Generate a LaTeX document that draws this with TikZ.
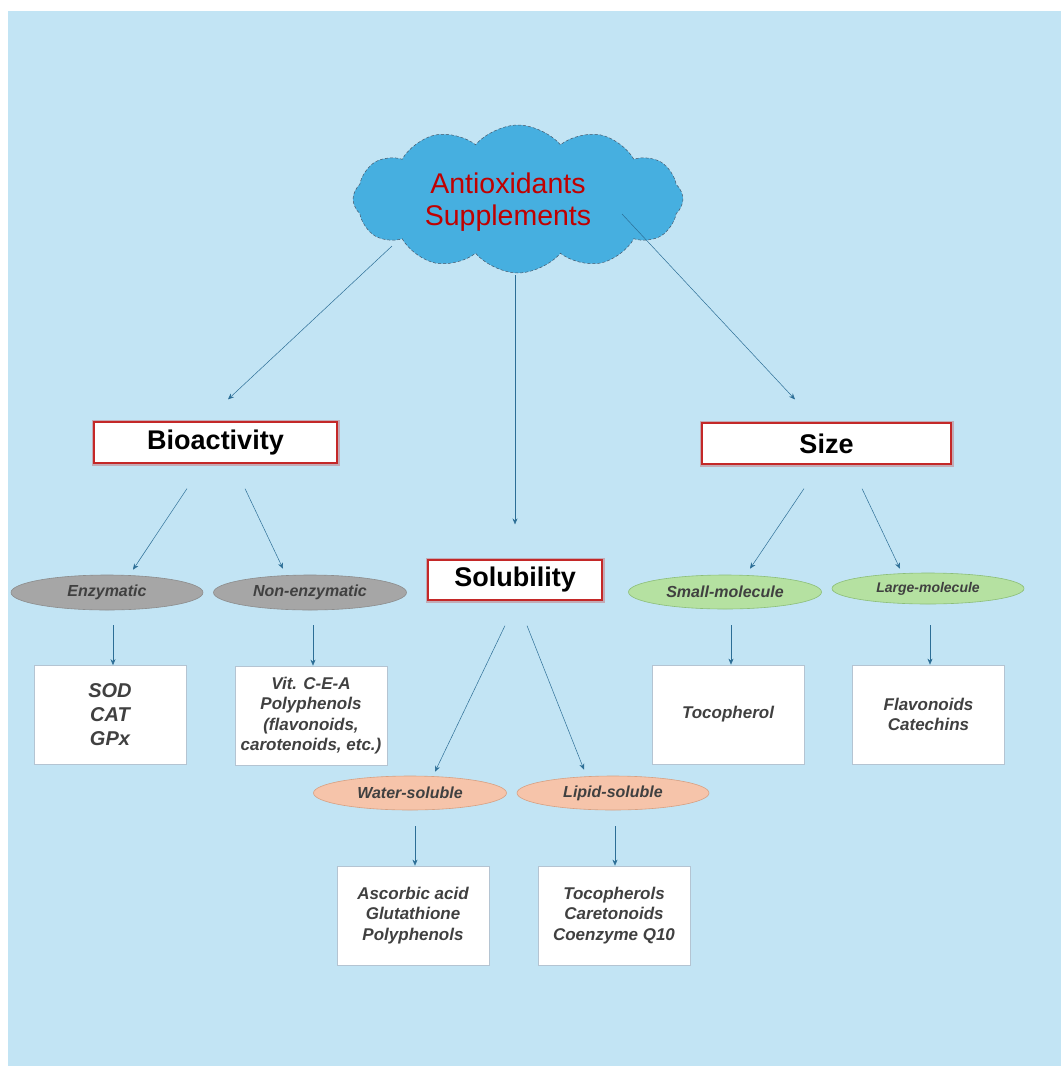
\documentclass[tikz,border=0pt]{standalone}
\usepackage{fontspec}
\setmainfont{Liberation Sans}
\usetikzlibrary{shapes.geometric,shapes.symbols,arrows.meta,calc}
\definecolor{bgblue}{RGB}{194,228,244}
\definecolor{cloudblue}{RGB}{70,175,224}
\definecolor{cloudline}{RGB}{70,90,110}
\definecolor{titlered}{RGB}{192,0,0}
\definecolor{boxred}{RGB}{196,40,40}
\definecolor{arrowblue}{RGB}{44,110,150}
\definecolor{txtgray}{RGB}{64,64,64}
\definecolor{ellgray}{RGB}{166,166,166}
\definecolor{ellgrayline}{RGB}{140,140,140}
\definecolor{ellgreen}{RGB}{181,225,161}
\definecolor{ellgreenline}{RGB}{140,190,120}
\definecolor{ellpeach}{RGB}{246,196,170}
\definecolor{ellpeachline}{RGB}{215,160,130}
\definecolor{boxline}{RGB}{180,196,210}
\tikzset{
  header/.style={rectangle, draw=boxred, line width=1.2pt, fill=white,
    preaction={draw=boxred, draw opacity=0.3, line width=5pt},
    inner sep=0pt, font=\fontsize{27}{30}\selectfont\bfseries, text=black},
  ell/.style={ellipse, inner sep=0pt, line width=0.6pt, text=txtgray,
    font=\fontsize{16}{19}\selectfont\bfseries\itshape},
  grayell/.style={ell, fill=ellgray, draw=ellgrayline},
  greenell/.style={ell, fill=ellgreen, draw=ellgreenline},
  peachell/.style={ell, fill=ellpeach, draw=ellpeachline},
  itembox/.style={rectangle, draw=boxline, line width=0.7pt, fill=white,
    minimum width=152pt, minimum height=99pt, inner sep=0pt, align=center,
    text=txtgray, font=\fontsize{17}{20.5}\selectfont\bfseries\itshape},
  arr/.style={draw=arrowblue, line width=0.5pt, -{Stealth[length=6pt,width=5pt]}}
}
\begin{document}
\begin{tikzpicture}[x=1pt,y=-1pt]
\useasboundingbox (0,0) rectangle (1061,1066);
\fill[bgblue] (8,11) rectangle (1061,1066);

% cloud
\node[cloud, cloud puffs=12, cloud puff arc=100, aspect=2.3, fill=cloudblue,
  draw=cloudline, densely dashed, line width=0.5pt, minimum width=330pt,
  minimum height=148pt, inner sep=0pt,
  label={[xshift=-10pt, yshift=-3pt, align=center, text=titlered,
  font=\fontsize{28.5}{31.5}\selectfont]center:Antioxidants\\Supplements}] (cloud) at (518,199) {};

% headers
\node[header, minimum width=243pt, minimum height=41pt] (bio) at (215.5,442.5) {Bioactivity};
\node[header, minimum width=249pt, minimum height=41pt] (size) at (826.5,443.5) {Size};
\node[header, minimum width=174pt, minimum height=40pt] (sol) at (515,580) {Solubility};

% ellipses
\node[grayell, minimum width=192pt, minimum height=35pt] (enz) at (107,592.5) {Enzymatic};
\node[grayell, minimum width=193pt, minimum height=35pt] (ne) at (310,592.5) {Non-enzymatic};
\node[greenell, minimum width=193pt, minimum height=34pt] (sm) at (725,592) {Small-molecule};
\node[greenell, minimum width=192pt, minimum height=31pt, font=\fontsize{14}{16}\selectfont\bfseries\itshape] (lg) at (928,588.5) {Large-molecule};
\node[peachell, minimum width=193pt, minimum height=34pt] (ws) at (410,793) {Water-soluble};
\node[peachell, minimum width=192pt, minimum height=34pt] (ls) at (613,793) {Lipid-soluble};

% boxes
\node[itembox, font=\fontsize{20}{24}\selectfont\bfseries\itshape] (sod) at (110,715) {SOD\\CAT\\GPx};
\node[itembox] (vit) at (311,715.5) {Vit. C-E-A\\Polyphenols\\(flavonoids,\\carotenoids, etc.)};
\node[itembox] (toc) at (728,714.5) {Tocopherol};
\node[itembox] (flav) at (928.5,714.5) {Flavonoids\\Catechins};
\node[itembox] (asc) at (413,915.5) {Ascorbic acid\\Glutathione\\Polyphenols};
\node[itembox] (tocs) at (614,915.5) {Tocopherols\\Caretonoids\\Coenzyme Q10};

% connectors from cloud
\draw[arr] ($(cloud.center)+(-126,47)$) -- ($(bio.north)+(12.5,-22)$);
\draw[arr] ($(cloud.center)+(-3,76)$) -- ($(sol.north)+(0,-35)$);
\draw[arr] ($(cloud.center)+(104,15)$) -- ($(size.north)+(-31.5,-23)$);

% level 2
\draw[arr] ($(bio.south)+(-28.5,25)$) -- ($(enz.north)+(26,-5)$);
\draw[arr] ($(bio.south)+(29.5,25)$) -- ($(ne.north)+(-27,-6)$);
\draw[arr] ($(size.south)+(-22.5,24)$) -- ($(sm.north)+(25,-6)$);
\draw[arr] ($(size.south)+(35.5,24)$) -- ($(lg.north)+(-28,-4)$);
\draw[arr] ($(sol.south)+(-10,25)$) -- ($(ws.north)+(25,-4)$);
\draw[arr] ($(sol.south)+(12,25)$) -- ($(ls.north)+(-29,-6)$);

% level 3
\draw[arr] ($(enz.south)+(6,15)$) -- ($(sod.north)+(3,0)$);
\draw[arr] ($(ne.south)+(3,15)$) -- ($(vit.north)+(2,0)$);
\draw[arr] ($(sm.south)+(6,16)$) -- ($(toc.north)+(3,0)$);
\draw[arr] ($(lg.south)+(2,21)$) -- ($(flav.north)+(1.5,0)$);
\draw[arr] ($(ws.south)+(5,16)$) -- ($(asc.north)+(2,0)$);
\draw[arr] ($(ls.south)+(2,16)$) -- ($(tocs.north)+(1,0)$);
\end{tikzpicture}
\end{document}
